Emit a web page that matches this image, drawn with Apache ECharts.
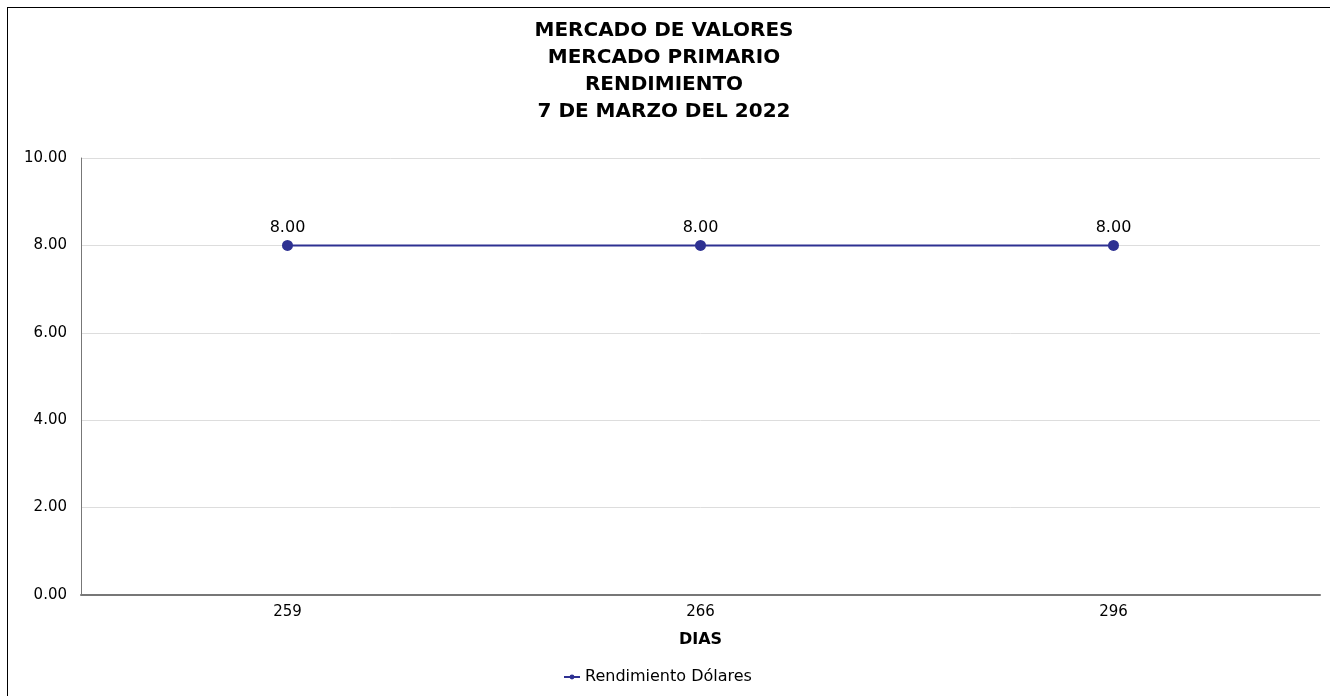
<!DOCTYPE html>
<html>
<head>
	<meta charset="UTF-8">
	<title>Mercado de Valores</title>
	<script src="https://cdn.jsdelivr.net/npm/echarts@6/dist/echarts.min.js"></script>
	<style>
		body { margin: 0; background: #fff; overflow: hidden; }
		#main { position: absolute; left: 7px; top: 7px; width: 1330px; height: 696px; border: 1px solid #000; }
	</style>
</head>
<body>
<div id="main"></div>
<script type="text/javascript">
	var dias = ['259', '266', '296'];
	var rendimiento = [8.00, 8.00, 8.00];
	var serieNombre = 'Rendimiento Dólares';
	var titulo = 'MERCADO DE VALORES\nMERCADO PRIMARIO\nRENDIMIENTO\n7 DE MARZO DEL 2022';

	var myChart = echarts.init(document.getElementById('main'));
	var fuente = 'DejaVu Sans';

	var option = {
		backgroundColor: '#fff',
		animation: false,
		title: {
			text: titulo,
			left: 651,
			textAlign: 'center',
			top: 4,
			textStyle: {
				fontFamily: fuente,
				fontWeight: 'bold',
				fontSize: 20,
				lineHeight: 27,
				color: '#000'
			}
		},
		legend: {
			bottom: 14,
			left: 550,
			data: [serieNombre],
			itemWidth: 16,
			itemHeight: 6,
			itemGap: 6,
			textStyle: { fontFamily: fuente, fontSize: 16, color: '#000' }
		},
		grid: {
			left: 73,
			top: 150,
			width: 1239,
			height: 437,
			containLabel: false
		},
		xAxis: {
			type: 'category',
			data: dias,
			name: 'DIAS',
			nameLocation: 'middle',
			nameGap: 37,
			nameTextStyle: { fontFamily: fuente, fontWeight: 'bold', fontSize: 16, color: '#000' },
			axisLine: { lineStyle: { color: '#777', width: 2 } },
			axisTick: { show: false },
			axisLabel: { fontFamily: fuente, fontSize: 15, color: '#000', margin: 10 }
		},
		yAxis: {
			type: 'value',
			min: 0,
			max: 10,
			interval: 2,
			axisLine: { show: true, lineStyle: { color: '#777', width: 1 } },
			axisTick: { show: false },
			splitLine: { lineStyle: { color: '#ddd' } },
			axisLabel: {
				fontFamily: fuente,
				fontSize: 15,
				color: '#000',
				margin: 14,
				formatter: function (v) { return v.toFixed(2); }
			}
		},
		series: [{
			name: serieNombre,
			type: 'line',
			data: rendimiento,
			symbol: 'circle',
			symbolSize: 11,
			itemStyle: { color: '#2e3192' },
			lineStyle: { color: '#2e3192', width: 2 },
			label: {
				show: true,
				position: 'top',
				distance: 4,
				fontFamily: fuente,
				fontSize: 16,
				color: '#000',
				formatter: function (p) { return p.value.toFixed(2); }
			}
		}]
	};
	myChart.setOption(option);
</script>
</body>
</html>
